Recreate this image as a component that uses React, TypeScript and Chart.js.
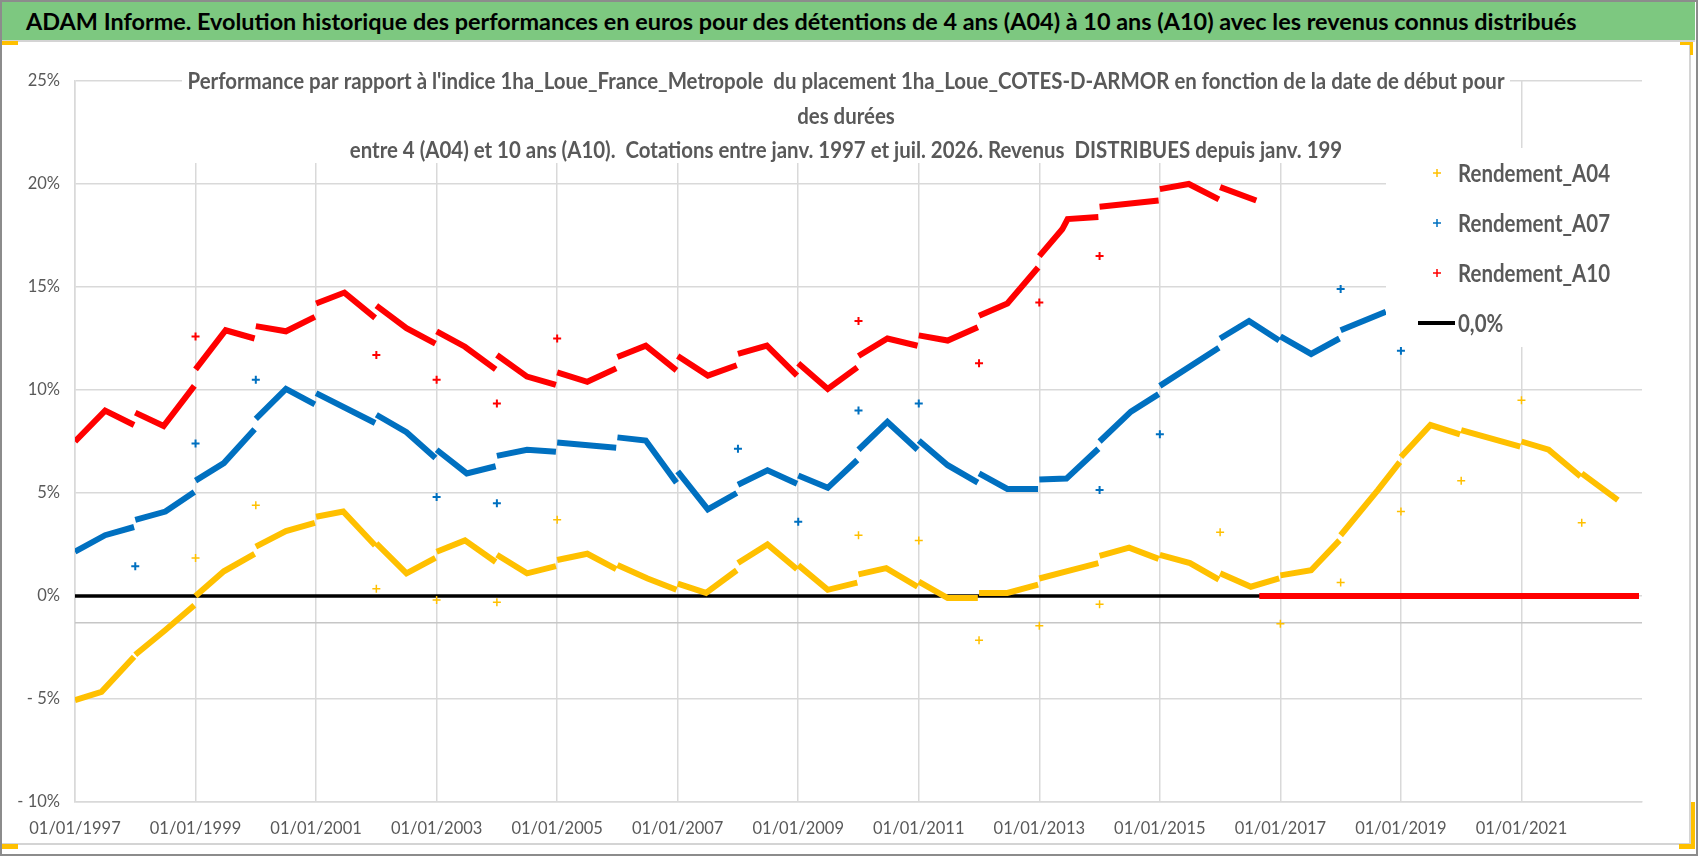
import React, { useEffect, useRef } from 'react';
import { Chart, registerables } from 'chart.js';

Chart.register(...registerables);

const FONT = 'Lato, "Open Sans", "Noto Sans", sans-serif';
const GRID = '#D9D9D9';
const TEXT = '#595959';

const bannerTitle =
  'ADAM Informe. Evolution historique des performances en euros pour des détentions de 4 ans (A04) à 10 ans (A10) avec les revenus connus distribués';

const chartTitle = [
  "Performance par rapport à l'indice 1ha_Loue_France_Metropole  du placement 1ha_Loue_COTES-D-ARMOR en fonction de la date de début pour",
  'des durées',
  'entre 4 (A04) et 10 ans (A10).  Cotations entre janv. 1997 et juil. 2026. Revenus  DISTRIBUES depuis janv. 199',
];

const seriesNames = ['Rendement_A04', 'Rendement_A07', 'Rendement_A10', '0,0%'];
const seriesColors = ['#FFC000', '#0070C0', '#FF0000', '#000000'];

// x = date as decimal year, ticks every 2 years
const yearTicks = [1997, 1999, 2001, 2003, 2005, 2007, 2009, 2011, 2013, 2015, 2017, 2019, 2021];
const X_MIN = 1997;
const X_MAX = 2023;
const AXIS_CROSS = -1.3;

// each inner list = one year of the series, [date, %]
const a04Segments: number[][][] = [
  [[1997.0, -5.05], [1997.44, -4.65], [1997.98, -2.95]],
  [[1998.0, -2.85], [1998.5, -1.65], [1998.98, -0.45]],
  [[1999.0, 0.0], [1999.47, 1.2], [1999.98, 2.05]],
  [[2000.0, 2.4], [2000.5, 3.15], [2000.98, 3.55]],
  [[2001.0, 3.85], [2001.45, 4.1], [2001.98, 2.45]],
  [[2002.0, 2.55], [2002.5, 1.1], [2002.98, 1.85]],
  [[2003.0, 2.15], [2003.47, 2.7], [2003.98, 1.65]],
  [[2004.0, 2.0], [2004.5, 1.1], [2004.98, 1.45]],
  [[2005.0, 1.75], [2005.5, 2.05], [2005.98, 1.3]],
  [[2006.0, 1.5], [2006.5, 0.85], [2006.98, 0.3]],
  [[2007.0, 0.6], [2007.47, 0.15], [2007.98, 1.25]],
  [[2008.0, 1.6], [2008.49, 2.5], [2008.98, 1.3]],
  [[2009.0, 1.5], [2009.49, 0.3], [2009.98, 0.65]],
  [[2010.0, 1.05], [2010.46, 1.35], [2010.98, 0.45]],
  [[2011.0, 0.7], [2011.48, -0.1], [2011.98, -0.1]],
  [[2012.0, 0.15], [2012.47, 0.15], [2012.98, 0.55]],
  [[2013.0, 0.85], [2013.45, 1.2], [2013.98, 1.6]],
  [[2014.0, 1.95], [2014.49, 2.35], [2014.98, 1.8]],
  [[2015.0, 2.0], [2015.5, 1.6], [2015.98, 0.8]],
  [[2016.0, 1.1], [2016.51, 0.45], [2016.98, 0.85]],
  [[2017.0, 1.0], [2017.51, 1.25], [2017.98, 2.7]],
  [[2018.0, 2.95], [2018.62, 5.15], [2018.98, 6.5]],
  [[2019.0, 6.75], [2019.49, 8.3], [2019.98, 7.85]],
  [[2020.0, 8.05], [2020.98, 7.25]],
  [[2021.0, 7.5], [2021.45, 7.1], [2021.98, 5.8]],
  [[2022.0, 5.95], [2022.6, 4.65]],
];
const a04Jumps = [
  [1999, 1.85], [2000, 4.4], [2002, 0.35], [2003, -0.2], [2004, -0.3], [2005, 3.7],
  [2010, 2.95], [2011, 2.7], [2012, -2.15], [2013, -1.45], [2014, -0.4], [2016, 3.1],
  [2017, -1.35], [2018, 0.65], [2019, 4.1], [2020, 5.6], [2021, 9.5], [2022, 3.55],
];

const a07Segments: number[][][] = [
  [[1997.0, 2.15], [1997.5, 2.95], [1997.98, 3.35]],
  [[1998.0, 3.7], [1998.5, 4.1], [1998.98, 5.05]],
  [[1999.0, 5.6], [1999.47, 6.45], [1999.98, 8.1]],
  [[2000.0, 8.6], [2000.5, 10.05], [2000.98, 9.3]],
  [[2001.0, 9.85], [2001.98, 8.4]],
  [[2002.0, 8.8], [2002.5, 7.95], [2002.98, 6.7]],
  [[2003.0, 7.1], [2003.5, 5.95], [2003.98, 6.3]],
  [[2004.0, 6.8], [2004.5, 7.1], [2004.98, 7.0]],
  [[2005.0, 7.45], [2005.98, 7.2]],
  [[2006.0, 7.7], [2006.47, 7.55], [2006.98, 5.5]],
  [[2007.0, 6.05], [2007.5, 4.2], [2007.98, 5.0]],
  [[2008.0, 5.4], [2008.49, 6.1], [2008.98, 5.45]],
  [[2009.0, 5.85], [2009.49, 5.25], [2009.98, 6.6]],
  [[2010.0, 7.1], [2010.48, 8.45], [2010.98, 7.1]],
  [[2011.0, 7.55], [2011.48, 6.35], [2011.98, 5.5]],
  [[2012.0, 5.95], [2012.47, 5.2], [2012.98, 5.2]],
  [[2013.0, 5.65], [2013.45, 5.7], [2013.98, 7.15]],
  [[2014.0, 7.5], [2014.52, 8.95], [2014.98, 9.8]],
  [[2015.0, 10.2], [2015.98, 12.05]],
  [[2016.0, 12.5], [2016.48, 13.35], [2016.98, 12.4]],
  [[2017.0, 12.6], [2017.51, 11.75], [2017.98, 12.5]],
  [[2018.0, 12.9], [2018.75, 13.8]],
];
const a07Jumps = [
  [1998, 1.45], [1999, 7.4], [2000, 10.5], [2003, 4.8], [2004, 4.5], [2008, 7.15],
  [2009, 3.6], [2010, 9.0], [2011, 9.35], [2014, 5.15], [2015, 7.85], [2018, 14.9], [2019, 11.9],
];

const a10Segments: number[][][] = [
  [[1997.0, 7.5], [1997.5, 9.0], [1997.98, 8.3]],
  [[1998.0, 8.9], [1998.47, 8.25], [1998.98, 10.2]],
  [[1999.0, 11.0], [1999.5, 12.9], [1999.98, 12.5]],
  [[2000.0, 13.1], [2000.5, 12.85], [2000.98, 13.55]],
  [[2001.0, 14.2], [2001.47, 14.73], [2001.98, 13.5]],
  [[2002.0, 14.1], [2002.5, 13.0], [2002.98, 12.25]],
  [[2003.0, 12.85], [2003.47, 12.1], [2003.98, 11.0]],
  [[2004.0, 11.7], [2004.5, 10.65], [2004.98, 10.25]],
  [[2005.0, 10.85], [2005.5, 10.4], [2005.98, 11.05]],
  [[2006.0, 11.6], [2006.47, 12.15], [2006.98, 10.95]],
  [[2007.0, 11.65], [2007.5, 10.7], [2007.98, 11.2]],
  [[2008.0, 11.75], [2008.48, 12.15], [2008.98, 10.7]],
  [[2009.0, 11.3], [2009.49, 10.05], [2009.98, 11.1]],
  [[2010.0, 11.65], [2010.48, 12.5], [2010.98, 12.15]],
  [[2011.0, 12.65], [2011.48, 12.4], [2011.98, 13.05]],
  [[2012.0, 13.6], [2012.47, 14.2], [2012.98, 15.95]],
  [[2013.0, 16.5], [2013.38, 17.8], [2013.47, 18.3], [2013.98, 18.4]],
  [[2014.0, 18.9], [2014.98, 19.2]],
  [[2015.0, 19.75], [2015.48, 20.0], [2015.98, 19.25]],
  [[2016.0, 19.85], [2016.6, 19.2]],
  [[2016.65, 0], [2022.95, 0]],
];
const a10Jumps = [
  [1999, 12.6], [2002, 11.7], [2003, 10.5], [2004, 9.35], [2005, 12.5],
  [2010, 13.35], [2012, 11.3], [2013, 14.25], [2014, 16.5],
];

const zeroLine = [[1997, 0], [2022.95, 0]];

const toPoints = (segments: number[][][]) =>
  segments.flatMap((seg) => [
    ...seg.map(([x, y]) => ({ x, y })),
    { x: seg[seg.length - 1][0] + 0.01, y: null as any },
  ]);

const toXY = (pairs: number[][]) => pairs.map(([x, y]) => ({ x, y }));

// horizontal squeeze so the fallback fonts take the same room as the narrow original
const measureCtx = document.createElement('canvas').getContext('2d')!;
const fitScale = (text: string, font: string, width: number) => {
  measureCtx.font = font;
  return width / measureCtx.measureText(text).width;
};

const TITLE_FONT = `bold 22.5px ${FONT}`;
const LEGEND_FONT = `bold 24px ${FONT}`;
const BANNER_FONT = `bold 22px ${FONT}`;

const drawSqueezed = (ctx: CanvasRenderingContext2D, text: string, x: number, y: number, k: number) => {
  ctx.save();
  ctx.translate(x, y);
  ctx.scale(k, 1);
  ctx.fillText(text, 0, 0);
  ctx.restore();
};

const overlayPlugin = {
  id: 'excelOverlay',
  beforeDatasetsDraw(chart: any) {
    const { ctx, chartArea, scales } = chart;
    const y = scales.y.getPixelForValue(AXIS_CROSS);
    ctx.save();
    ctx.strokeStyle = '#C6C6C6';
    ctx.lineWidth = 1.5;
    ctx.beginPath();
    ctx.moveTo(chartArea.left, y);
    ctx.lineTo(chartArea.right, y);
    ctx.stroke();
    ctx.restore();
  },
  afterDatasetsDraw(chart: any) {
    const { ctx } = chart;
    ctx.save();
    // title box sits over the plot, like the Excel overlay title
    ctx.fillStyle = '#FFFFFF';
    ctx.fillRect(182, 58, 1328, 105);
    ctx.fillStyle = TEXT;
    ctx.font = TITLE_FONT;
    ctx.textAlign = 'center';
    ctx.textBaseline = 'middle';
    const kTitle = fitScale(chartTitle[0], TITLE_FONT, 1317);
    chartTitle.forEach((line, i) => drawSqueezed(ctx, line, 846, 82 + i * 34.5, kTitle));

    // legend box
    ctx.fillStyle = '#FFFFFF';
    ctx.fillRect(1386, 148, 270, 199);
    ctx.font = LEGEND_FONT;
    ctx.textAlign = 'left';
    const kLegend = fitScale(seriesNames[0], LEGEND_FONT, 152);
    seriesNames.forEach((name, i) => {
      const y = 173 + i * 50;
      if (i < 3) {
        ctx.strokeStyle = seriesColors[i];
        ctx.lineWidth = 1.5;
        ctx.beginPath();
        ctx.moveTo(1433, y);
        ctx.lineTo(1441, y);
        ctx.moveTo(1437, y - 4);
        ctx.lineTo(1437, y + 4);
        ctx.stroke();
      } else {
        ctx.strokeStyle = '#000000';
        ctx.lineWidth = 4;
        ctx.beginPath();
        ctx.moveTo(1418, y);
        ctx.lineTo(1455, y);
        ctx.stroke();
      }
      ctx.fillStyle = TEXT;
      drawSqueezed(ctx, name, 1458, y + 1, kLegend);
    });
    ctx.restore();
  },
};

const lineSet = (label: string, segments: number[][][], color: string, order: number) => ({
  label,
  data: toPoints(segments),
  showLine: true,
  spanGaps: false,
  borderColor: color,
  backgroundColor: color,
  borderWidth: 6,
  pointRadius: 0,
  order,
});

const jumpSet = (label: string, pairs: number[][], color: string, order: number, width: number) => ({
  label,
  data: toXY(pairs),
  showLine: false,
  pointStyle: 'cross',
  pointRadius: 4,
  borderColor: color,
  backgroundColor: color,
  borderWidth: width,
  order,
});

const App: React.FC = () => {
  const chartRef = useRef<HTMLCanvasElement>(null);
  const chartInstance = useRef<Chart | null>(null);

  useEffect(() => {
    if (!chartRef.current) return;
    if (chartInstance.current) chartInstance.current.destroy();

    const tickFont = { family: FONT, size: 16.5 };

    chartInstance.current = new Chart(chartRef.current, {
      type: 'scatter',
      data: {
        datasets: [
          lineSet(seriesNames[2], a10Segments, seriesColors[2], 1),
          jumpSet(seriesNames[2], a10Jumps, seriesColors[2], 1, 2),
          lineSet(seriesNames[1], a07Segments, seriesColors[1], 2),
          jumpSet(seriesNames[1], a07Jumps, seriesColors[1], 2, 2),
          lineSet(seriesNames[0], a04Segments, seriesColors[0], 3),
          jumpSet(seriesNames[0], a04Jumps, seriesColors[0], 3, 1.5),
          {
            label: seriesNames[3],
            data: toXY(zeroLine),
            showLine: true,
            borderColor: '#000000',
            borderWidth: 3.5,
            pointRadius: 0,
            order: 4,
          },
        ] as any,
      },
      options: {
        animation: false,
        responsive: true,
        maintainAspectRatio: false,
        layout: { padding: { top: 81, right: 56, left: 0, bottom: 0 } },
        plugins: {
          legend: { display: false },
          title: { display: false },
          tooltip: { enabled: false },
        },
        scales: {
          x: {
            type: 'linear',
            min: X_MIN,
            max: X_MAX,
            afterFit: (scale: any) => {
              scale.height = 54;
            },
            ticks: {
              stepSize: 2,
              autoSkip: false,
              maxRotation: 0,
              padding: 17,
              color: TEXT,
              font: tickFont,
              callback: (v: any) => (yearTicks.includes(Number(v)) ? `01/01/${v}` : ''),
            },
            grid: {
              drawTicks: false,
              lineWidth: 1.5,
              color: (c: any) => (c.tick && yearTicks.includes(c.tick.value) ? GRID : 'rgba(0,0,0,0)'),
            },
            border: { color: GRID, width: 1.5 },
          },
          y: {
            min: -10,
            max: 25,
            afterFit: (scale: any) => {
              scale.width = 75;
            },
            ticks: {
              stepSize: 5,
              padding: 15,
              color: TEXT,
              font: tickFont,
              callback: (v: any) => (Number(v) < 0 ? `- ${-Number(v)}%` : `${v}%`),
            },
            grid: { drawTicks: false, lineWidth: 1.5, color: GRID },
            border: { color: GRID, width: 1.5 },
          },
        },
      },
      plugins: [overlayPlugin],
    });

    return () => {
      if (chartInstance.current) {
        chartInstance.current.destroy();
        chartInstance.current = null;
      }
    };
  }, []);

  const kBanner = fitScale(bannerTitle, BANNER_FONT, 1551);

  const handle = (left: number, top: number, width: number, height: number) => (
    <div style={{ position: 'absolute', left, top, width, height, background: '#FFC000' }} />
  );

  return (
    <div style={{ position: 'absolute', left: 0, top: 0, width: 1698, height: 856, background: '#fff', overflow: 'hidden' }}>
      <div style={{ position: 'absolute', left: 0, top: 0, width: 1698, height: 856 }}>
        <canvas ref={chartRef} />
      </div>
      <div
        style={{
          position: 'absolute',
          left: 2,
          top: 2,
          width: 1693,
          height: 40,
          background: '#7DC880',
          borderBottom: '2px solid #D4D4D4',
          boxSizing: 'border-box',
          overflow: 'hidden',
        }}
      >
        <span
          style={{
            position: 'absolute',
            left: 24,
            top: 0,
            font: BANNER_FONT,
            lineHeight: '40px',
            color: '#000',
            whiteSpace: 'nowrap',
            transform: `scaleX(${kBanner})`,
            transformOrigin: '0 50%',
          }}
        >
          {bannerTitle}
        </span>
      </div>
      <div style={{ position: 'absolute', left: 0, top: 843, width: 1690, height: 1.5, background: '#D4D4D4' }} />
      <div style={{ position: 'absolute', left: 1689, top: 44, width: 1.5, height: 800, background: '#D4D4D4' }} />
      {handle(2, 41, 16, 4)}
      {handle(1680, 42, 13, 3)}
      {handle(1690, 42, 3, 13)}
      {handle(2, 844, 16, 5)}
      {handle(1691, 802, 4, 47)}
      {handle(1679, 844, 16, 5)}
      <div
        style={{
          position: 'absolute',
          left: 0,
          top: 0,
          width: 1698,
          height: 856,
          border: '2px solid #8C8C8C',
          boxSizing: 'border-box',
          pointerEvents: 'none',
        }}
      />
    </div>
  );
};

export default App;
